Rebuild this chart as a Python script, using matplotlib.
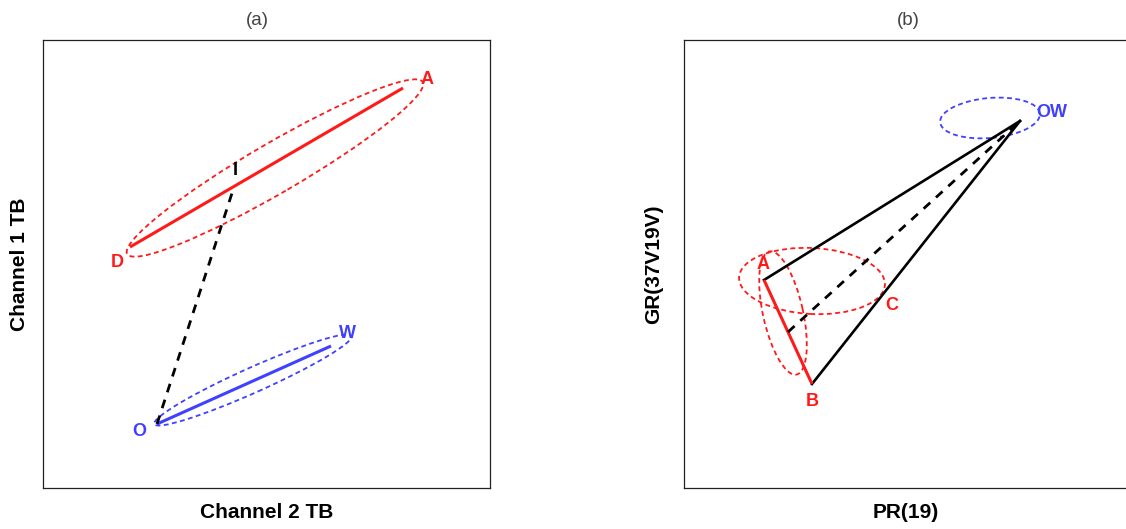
import matplotlib.pyplot as plt
from matplotlib.patches import Ellipse

plt.rcParams['font.family'] = ['Liberation Sans', 'DejaVu Sans']

RED = "#ff1a1a"
BLUE = "#4040ff"

# Panel (a): end members in the Channel 2 / Channel 1 TB plane
a_points = ["D", "A", "O", "W"]
a_x = [87, 360, 114, 288]
a_y = [241, 400, 64, 142]
a_label_x = [74, 384, 96, 304]
a_label_y = [226, 409, 56, 154]
a_colors = [RED, RED, BLUE, BLUE]
a_mix_point = [191, 301]          # point I on the D-A line
a_mix_label = [192, 318]
# ellipses: centre x, centre y, semi-major, semi-minor, angle (deg)
a_ellipses = [
    (232, 320, 171, 25, 30.2, RED),
    (210, 108, 108, 12.5, 24.1, BLUE),
]

# Panel (b): triangle in the PR(19) / GR(37V19V) plane
b_points = ["A", "B", "C", "OW"]
b_x = [80, 128, 196, 336]
b_y = [208, 104, 191, 367]
b_label_x = [79, 128, 208, 368]
b_label_y = [224, 87, 183, 376]
b_colors = [RED, RED, RED, BLUE]
b_ellipses = [
    (128, 207, 73, 33, -3, RED),
    (99, 175, 63, 20, 102.5, RED),
    (306, 370, 50, 20, 5, BLUE),
]

fig = plt.figure(figsize=(11.26, 5.29), dpi=100)
W, H = 1126, 529
ax_a = fig.add_axes([43 / W, (H - 488) / H, 447 / W, 448 / H])
ax_b = fig.add_axes([684 / W, (H - 488) / H, 444 / W, 448 / H])

for ax in (ax_a, ax_b):
    ax.set_xticks([])
    ax.set_yticks([])
    for s in ax.spines.values():
        s.set_color("#222222")
        s.set_linewidth(0.9)

ell_style = dict(fill=False, lw=1.3, linestyle=(0, (2.7, 1.9)))
dash_style = dict(color="black", lw=2.0, dashes=(3.2, 2.8))
label_font = dict(fontsize=13, fontweight="bold", ha="center", va="center")
axis_font = dict(fontsize=15, fontweight="bold")
title_font = dict(fontsize=13.5, color="#444444")

# ---- panel (a)
ax_a.set_xlim(0, 447)
ax_a.set_ylim(0, 448)
for cx, cy, sa, sb, ang, col in a_ellipses:
    ax_a.add_patch(Ellipse((cx, cy), 2 * sa, 2 * sb, angle=ang, edgecolor=col, **ell_style))
ax_a.plot(a_x[0:2], a_y[0:2], color=RED, lw=2.2, solid_capstyle="butt")
ax_a.plot(a_x[2:4], a_y[2:4], color=BLUE, lw=2.2, solid_capstyle="butt")
ax_a.plot([a_x[2], a_mix_point[0]], [a_y[2], a_mix_point[1]], **dash_style)
for name, lx, ly, col in zip(a_points, a_label_x, a_label_y, a_colors):
    ax_a.text(lx, ly, name, color=col, **label_font)
ax_a.text(a_mix_label[0], a_mix_label[1], "I", color="black", **label_font)
ax_a.set_title("(a)", x=0.479, pad=11, **title_font)
ax_a.set_xlabel("Channel 2 TB", labelpad=11, **axis_font)
ax_a.set_ylabel("Channel 1 TB", labelpad=10, **axis_font)

# ---- panel (b)
ax_b.set_xlim(0, 444)
ax_b.set_ylim(0, 448)
for cx, cy, sa, sb, ang, col in b_ellipses:
    ax_b.add_patch(Ellipse((cx, cy), 2 * sa, 2 * sb, angle=ang, edgecolor=col, **ell_style))
ax_b.plot([b_x[0], b_x[3]], [b_y[0], b_y[3]], color="black", lw=1.9)
ax_b.plot([b_x[1], b_x[3]], [b_y[1], b_y[3]], color="black", lw=1.9)
ax_b.plot(b_x[0:2], b_y[0:2], color=RED, lw=2.2, solid_capstyle="butt")
mid_x = (b_x[0] + b_x[1]) / 2
mid_y = (b_y[0] + b_y[1]) / 2
ax_b.plot([mid_x, b_x[3]], [mid_y, b_y[3]], **dash_style)
for name, lx, ly, col in zip(b_points, b_label_x, b_label_y, b_colors):
    ax_b.text(lx, ly, name, color=col, **label_font)
ax_b.set_title("(b)", x=0.505, pad=11, **title_font)
ax_b.set_xlabel("PR(19)", labelpad=11, **axis_font)
ax_b.set_ylabel("GR(37V19V)", labelpad=15, **axis_font)

fig.savefig("out.png", dpi=100)
